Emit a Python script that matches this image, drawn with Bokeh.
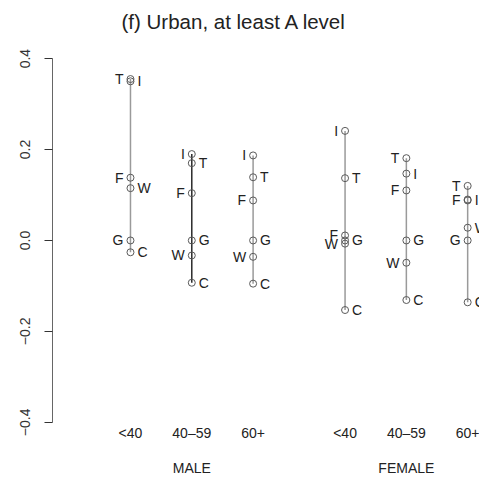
from bokeh.plotting import figure
from bokeh.models import (Range1d, FixedTicker, LinearAxis, Title)
from bokeh.core.properties import value
from bokeh.embed import file_html
from bokeh.resources import INLINE

# Age groups within each sex, and their horizontal slots
age_groups = ["<40", "40\u201359", "60+", "<40", "40\u201359", "60+"]
sexes = ["MALE", "FEMALE"]
slots = [1, 2, 3, 4.5, 5.5, 6.5]
sex_slots = [2, 5.5]

# Estimated effects by party letter, one value per age/sex group
letters = ["T", "I", "F", "W", "G", "C"]
T = [0.355, 0.170, 0.139, 0.137, 0.181, 0.120]
I = [0.350, 0.190, 0.187, 0.241, 0.147, 0.088]
F = [0.138, 0.104, 0.088, 0.011, 0.110, 0.090]
W = [0.115, -0.033, -0.036, -0.007, -0.049, 0.028]
G = [0.0, 0.0, 0.0, 0.0, 0.0, 0.0]
C = [-0.026, -0.093, -0.095, -0.153, -0.131, -0.136]
series = {"T": T, "I": I, "F": F, "W": W, "G": G, "C": C}

y_ticks = [-0.4, -0.2, 0.0, 0.2, 0.4]

# Which side of its point each letter sits on (L / R)
sides = {
    "T": "LRRRLL",
    "I": "RLLLRR",
    "F": "LLLLLL",
    "W": "RLLLLR",
    "G": "LRRRRL",
    "C": "RRRRRR",
}
line_colors = ["#9a9a9a", "#2a2a2a", "#9a9a9a", "#9a9a9a", "#9a9a9a", "#9a9a9a"]

FONT = "Liberation Sans"

p = figure(width=479, height=478, output_backend="svg", toolbar_location=None,
           x_range=Range1d(-0.272, 6.693), y_range=Range1d(-0.4048, 0.4398),
           min_border_left=52, min_border_right=0, min_border_top=40,
           min_border_bottom=52)
p.outline_line_color = None
p.xgrid.visible = False
p.ygrid.visible = False

p.title = Title(text="(f) Urban, at least A level", align="left", offset=69,
                vertical_align="middle",
                text_font=FONT, text_font_size="20.5px", text_font_style="normal",
                text_color="#222222", standoff=14)

# Vertical range line for each group
lo = [min(series[k][i] for k in letters) for i in range(len(slots))]
hi = [max(series[k][i] for k in letters) for i in range(len(slots))]
p.segment(x0=slots, y0=lo, x1=slots, y1=hi, line_color=line_colors, line_width=1.5)

# Points and letter labels
px, py, lx, ly, lt, rx, ry, rt = [], [], [], [], [], [], [], []
for k in letters:
    for i, v in enumerate(series[k]):
        px.append(slots[i]); py.append(v)
        if sides[k][i] == "L":
            lx.append(slots[i]); ly.append(v); lt.append(k)
        else:
            rx.append(slots[i]); ry.append(v); rt.append(k)

p.scatter(x=px, y=py, marker="circle", size=7, fill_color=None,
          line_color="#5a5a5a", line_width=1)
p.text(x=lx, y=ly, text=lt, x_offset=-7, text_align="right", text_baseline="middle",
       text_font=value(FONT), text_font_size="14px", text_color="#222222")
p.text(x=rx, y=ry, text=rt, x_offset=7, text_align="left", text_baseline="middle",
       text_font=value(FONT), text_font_size="14px", text_color="#222222")

# Y axis
ya = p.yaxis[0]
ya.bounds = (-0.4, 0.4)
ya.ticker = FixedTicker(ticks=y_ticks)
ya.major_label_overrides = {t: ("%.1f" % t).replace("-", "\u2212") for t in y_ticks}
ya.major_label_orientation = "vertical"
ya.major_label_text_font = FONT
ya.major_label_text_font_size = "14px"
ya.major_label_text_color = "#333333"
ya.major_label_standoff = 14
ya.major_tick_out = 8
ya.major_tick_in = 0
ya.minor_tick_line_color = None
ya.axis_line_color = "#666666"
ya.major_tick_line_color = "#333333"

# Age-group labels along the bottom
xa = p.xaxis[0]
xa.ticker = FixedTicker(ticks=slots)
xa.major_label_overrides = {s: a for s, a in zip(slots, age_groups)}
xa.axis_line_color = None
xa.major_tick_line_color = None
xa.minor_tick_line_color = None
xa.major_tick_out = 0
xa.major_tick_in = 0
xa.major_label_standoff = 0
xa.major_label_text_font = FONT
xa.major_label_text_font_size = "14px"
xa.major_label_text_color = "#222222"

# Sex labels beneath the age groups
sa = LinearAxis(ticker=FixedTicker(ticks=sex_slots),
                major_label_overrides={s: n for s, n in zip(sex_slots, sexes)})
sa.axis_line_color = None
sa.major_tick_line_color = None
sa.minor_tick_line_color = None
sa.major_tick_out = 0
sa.major_tick_in = 0
sa.major_label_standoff = 16
sa.major_label_text_font = FONT
sa.major_label_text_font_size = "14px"
sa.major_label_text_color = "#222222"
p.add_layout(sa, "below")

open("out.html", "w").write(file_html(p, INLINE))
